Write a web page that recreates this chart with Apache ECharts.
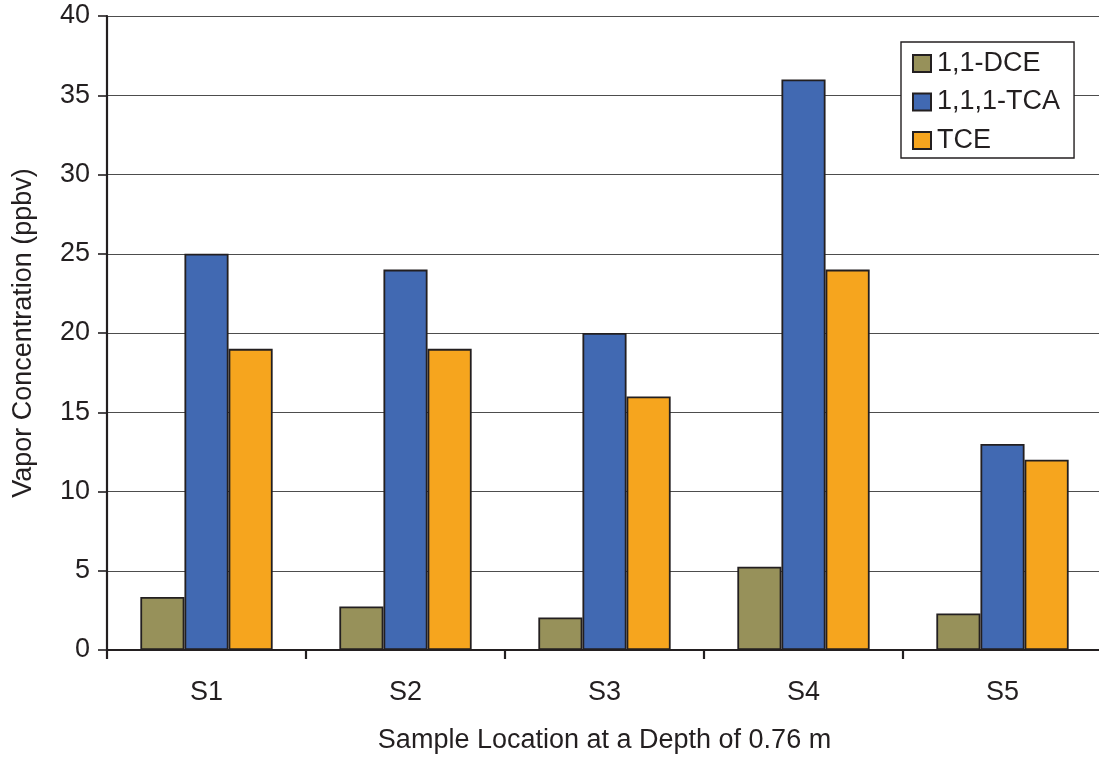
<!DOCTYPE html>
<html>
<head>
<meta charset="utf-8">
<script src="https://cdn.jsdelivr.net/npm/echarts@6/dist/echarts.min.js"></script>
<style>
  html, body { margin: 0; padding: 0; background: #fff; }
  #chart { width: 1099px; height: 757px; }
</style>
</head>
<body>
<div id="chart"></div>
<script>
// Sample locations and measured vapor concentrations (ppbv)
const categories = ['S1', 'S2', 'S3', 'S4', 'S5'];
const dce = [3.35, 2.75, 2.05, 5.25, 2.3];
const tca = [25, 24, 20, 36, 13];
const tce = [19, 19, 16, 24, 12];
const yTicks = [0, 5, 10, 15, 20, 25, 30, 35, 40];

const FONT = 'Liberation Sans, Arial, Helvetica, sans-serif';
const INK = '#231f20';
const FS = 27;

const chart = echarts.init(document.getElementById('chart'), null, { renderer: 'canvas' });

function barSeries(name, data, color) {
  return {
    name: name,
    type: 'bar',
    data: data,
    barGap: '0%',
    barCategoryGap: '33.5%',
    itemStyle: { color: color, borderColor: INK, borderWidth: 1.8 },
    emphasis: { disabled: true }
  };
}

chart.setOption({
  animation: false,
  backgroundColor: '#ffffff',
  textStyle: { fontFamily: FONT },
  grid: {
    left: 107, top: 16, width: 995, height: 634,
    containLabel: false,
    outerBoundsMode: 'none'
  },
  legend: {
    orient: 'vertical',
    left: 901,
    top: 42,
    padding: [8, 14, 4, 11],
    itemWidth: 18,
    itemHeight: 17,
    itemGap: 11.5,
    backgroundColor: '#ffffff',
    borderColor: INK,
    borderWidth: 1.4,
    borderRadius: 0,
    icon: 'rect',
    textStyle: { fontSize: FS, color: INK, padding: [0, 0, 0, 1] },
    data: ['1,1-DCE', '1,1,1-TCA', 'TCE']
  },
  xAxis: {
    type: 'category',
    data: categories,
    name: 'Sample Location at a Depth of 0.76 m',
    nameLocation: 'middle',
    nameGap: 77,
    nameTextStyle: { fontSize: FS, color: INK, fontFamily: FONT },
    axisLine: { show: true, lineStyle: { color: INK, width: 2.2 } },
    axisTick: { show: true, length: 9, lineStyle: { color: INK, width: 2.2 } },
    axisLabel: { fontSize: FS, color: INK, margin: 29, fontFamily: FONT },
    splitLine: { show: false }
  },
  yAxis: {
    type: 'value',
    min: yTicks[0],
    max: yTicks[yTicks.length - 1],
    interval: 5,
    name: 'Vapor Concentration (ppbv)',
    nameLocation: 'middle',
    nameGap: 70,
    nameTextStyle: { fontSize: FS, color: INK, fontFamily: FONT },
    axisLine: { show: true, lineStyle: { color: INK, width: 2.2 } },
    axisTick: { show: true, length: 9, lineStyle: { color: INK, width: 1.6 } },
    axisLabel: { fontSize: FS, color: INK, margin: 17, fontFamily: FONT },
    splitLine: { show: true, lineStyle: { color: '#4d4d4d', width: 1.2 } }
  },
  series: [
    barSeries('1,1-DCE', dce, '#97915a'),
    barSeries('1,1,1-TCA', tca, '#4169b2'),
    barSeries('TCE', tce, '#f6a51e')
  ]
});
</script>
</body>
</html>
